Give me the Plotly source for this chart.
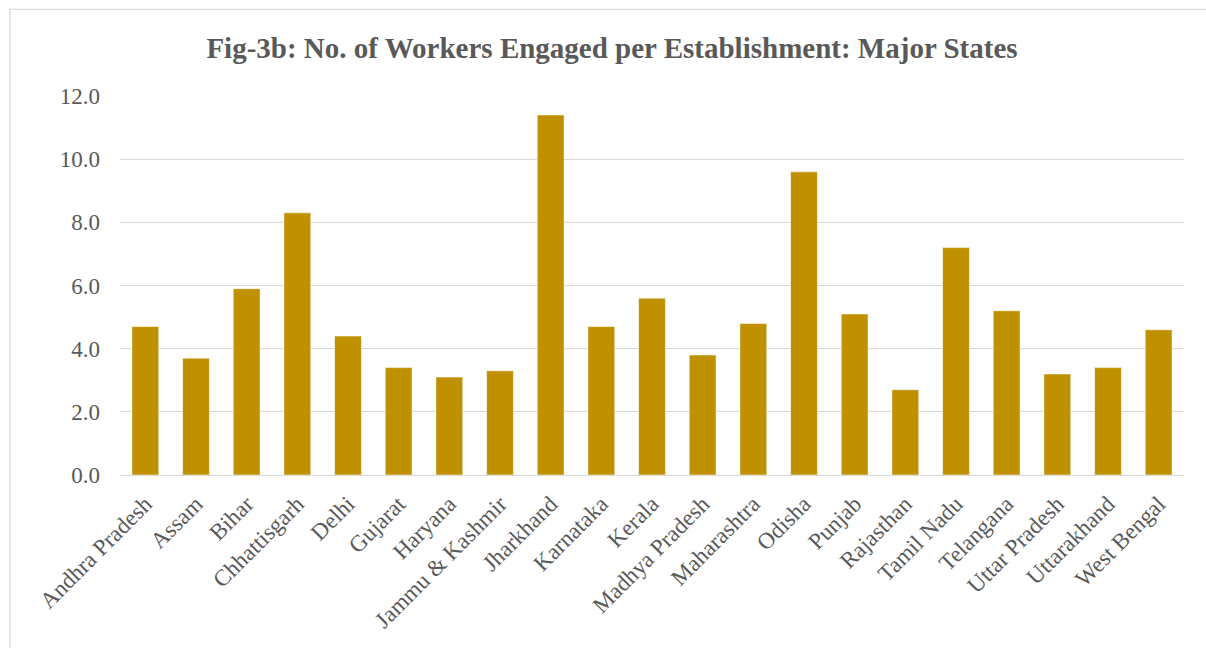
import plotly.graph_objects as go

states = ["Andhra Pradesh", "Assam", "Bihar", "Chhattisgarh", "Delhi", "Gujarat",
          "Haryana", "Jammu & Kashmir", "Jharkhand", "Karnataka", "Kerala",
          "Madhya Pradesh", "Maharashtra", "Odisha", "Punjab", "Rajasthan",
          "Tamil Nadu", "Telangana", "Uttar Pradesh", "Uttarakhand", "West Bengal"]
workers_per_est = [4.7, 3.7, 5.9, 8.3, 4.4, 3.4, 3.1, 3.3, 11.4, 4.7, 5.6,
                   3.8, 4.8, 9.6, 5.1, 2.7, 7.2, 5.2, 3.2, 3.4, 4.6]
y_ticks = [0, 2, 4, 6, 8, 10, 12]
title_text = "Fig-3b: No. of Workers Engaged per Establishment: Major States"

W, H = 1206, 648
L, R, T, B = 120, 22, 96, 173
pw, ph = W - L - R, H - T - B

FONT = "Liberation Serif, Times New Roman, serif"
GREY = "#595959"

fig = go.Figure(go.Bar(
    x=states, y=workers_per_est,
    marker=dict(color="#BF9000", line=dict(color="rgba(255,255,255,0.55)", width=1)),
))

fig.update_layout(
    width=W, height=H,
    margin=dict(l=L, r=R, t=T, b=B, autoexpand=False),
    paper_bgcolor="white", plot_bgcolor="white",
    bargap=0.47,
    showlegend=False,
    font=dict(family=FONT, color=GREY, size=23),
    title=dict(text="<b>" + title_text + "</b>", x=612 / W, xanchor="center",
               y=1 - 48 / H, yanchor="middle", xref="container", yref="container",
               font=dict(family=FONT, size=29, color=GREY)),
    xaxis=dict(tickangle=-45, showgrid=False, showline=False, ticks="",
               ticklabelstandoff=10,
               tickfont=dict(family=FONT, size=23, color=GREY)),
    yaxis=dict(range=[0, 12], tickvals=y_ticks, tickformat=".1f",
               showgrid=True, gridcolor="#D9D9D9", gridwidth=1.3,
               zeroline=True, zerolinecolor="#D9D9D9", zerolinewidth=1.3,
               showline=False, ticks="", ticklabelstandoff=19,
               tickfont=dict(family=FONT, size=23, color=GREY)),
    shapes=[dict(type="rect", xref="paper", yref="paper",
                 x0=(10 - L) / pw, x1=(W + 10 - L) / pw,
                 y0=(H - B - (H + 10)) / ph, y1=(H - B - 9.3) / ph,
                 line=dict(color="#D9D9D9", width=1.3), fillcolor="rgba(0,0,0,0)",
                 layer="below")],
)

fig.write_html("out.html")
